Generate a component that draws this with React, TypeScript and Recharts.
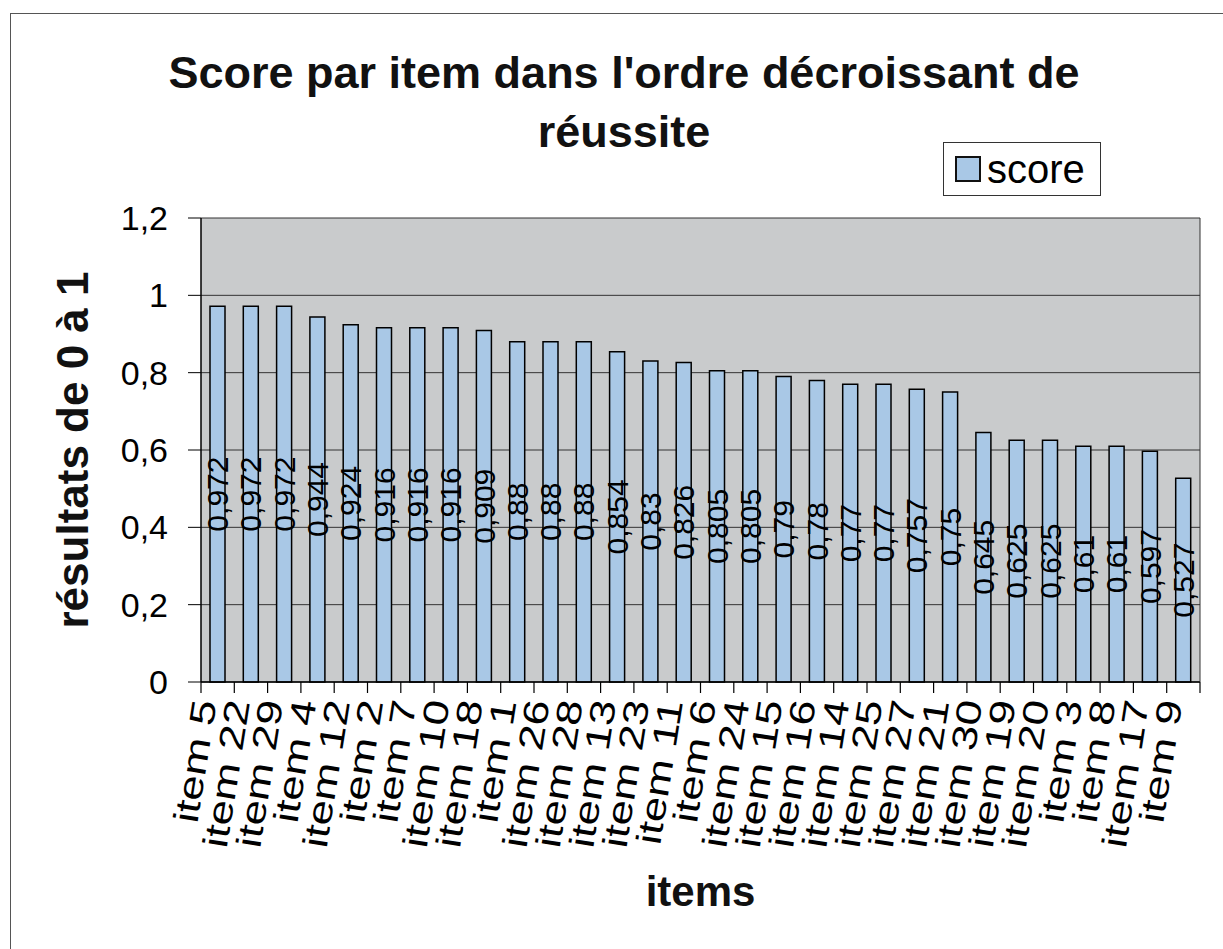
import { BarChart, Bar, XAxis, YAxis, CartesianGrid, LabelList, Label } from "recharts";

const items = [
  "item 5", "item 22", "item 29", "item 4", "item 12", "item 2", "item 7", "item 10",
  "item 18", "item 1", "item 26", "item 28", "item 13", "item 23", "item 11", "item 6",
  "item 24", "item 15", "item 16", "item 14", "item 25", "item 27", "item 21", "item 30",
  "item 19", "item 20", "item 3", "item 8", "item 17", "item 9",
];
const scores = [
  0.972, 0.972, 0.972, 0.944, 0.924, 0.916, 0.916, 0.916,
  0.909, 0.88, 0.88, 0.88, 0.854, 0.83, 0.826, 0.805,
  0.805, 0.79, 0.78, 0.77, 0.77, 0.757, 0.75, 0.645,
  0.625, 0.625, 0.61, 0.61, 0.597, 0.527,
];
const yTicks = [0, 0.2, 0.4, 0.6, 0.8, 1, 1.2];

const data = items.map((item, i) => ({ item, score: scores[i] }));

const W = 1223;
const H = 949;
const margin = { top: 218, right: 22, bottom: 0, left: 0 };
const yAxisW = 201;
const plotW = W - margin.left - margin.right - yAxisW - 1;
const band = plotW / items.length;

// french decimal comma
const fr = (v: any) => String(v).replace(".", ",");

function ItemTick(props: any) {
  const { x, y, payload, index } = props;
  const half = band / 2;
  return (
    <g>
      <line x1={x - half} y1={y} x2={x - half} y2={y + 11} stroke="#000" strokeWidth={1.2} />
      {index === items.length - 1 && (
        <line x1={x + half} y1={y} x2={x + half} y2={y + 11} stroke="#000" strokeWidth={1.2} />
      )}
      <text
        transform={`translate(${x - 1},${y + 20}) rotate(-81) scale(1.3,1)`}
        textAnchor="end"
        fontSize={35}
        fill="#000"
      >
        {payload.value}
      </text>
    </g>
  );
}

export default function App() {
  return (
    <div
      style={{
        position: "absolute",
        left: 0,
        top: 0,
        width: W,
        height: H,
        overflow: "hidden",
        background: "#fff",
        fontFamily: "'Liberation Sans', Arial, sans-serif",
      }}
    >
      <div
        style={{
          position: "absolute",
          left: 10,
          top: 13,
          width: W + 40,
          height: H + 40,
          border: "1.5px solid #555",
        }}
      />
      <div
        style={{
          position: "absolute",
          left: 24,
          top: 43,
          width: 1200,
          textAlign: "center",
          fontSize: 45,
          fontWeight: "bold",
          lineHeight: "59px",
          color: "#111",
        }}
      >
        <div>Score par item dans l'ordre décroissant de</div>
        <div>réussite</div>
      </div>
      <div
        style={{
          position: "absolute",
          left: 943,
          top: 142,
          width: 158,
          height: 54,
          border: "1.5px solid #333",
          display: "flex",
          alignItems: "center",
          boxSizing: "border-box",
          paddingLeft: 11,
          zIndex: 2,
        }}
      >
        <span
          style={{
            display: "inline-block",
            width: 22,
            height: 22,
            background: "#a9c8e6",
            border: "2px solid #111",
            marginRight: 6,
          }}
        />
        <span style={{ fontSize: 40, color: "#000", lineHeight: "40px" }}>score</span>
      </div>
      <div style={{ position: "absolute", left: 0, top: 0 }}>
        <BarChart width={W} height={H} data={data} margin={margin} barCategoryGap={0}>
          <CartesianGrid vertical={false} stroke="#333" strokeWidth={1} fill="#c9cbcc" fillOpacity={1} />
          <XAxis
            dataKey="item"
            interval={0}
            height={H - 682}
            tickLine={false}
            tickSize={0}
            tickMargin={0}
            axisLine={{ stroke: "#000", strokeWidth: 1.5 }}
            tick={<ItemTick />}
          >
            <Label
              value="items"
              position="center"
              dy={76}
              style={{ fontSize: 42, fontWeight: "bold", fill: "#111" }}
            />
          </XAxis>
          <YAxis
            width={yAxisW}
            domain={[0, 1.2]}
            ticks={yTicks}
            tickFormatter={fr}
            tickSize={13}
            tickMargin={20}
            tickLine={{ stroke: "#000" }}
            axisLine={{ stroke: "#000", strokeWidth: 1.5 }}
            tick={{ fill: "#000", fontSize: 34 }}
          >
            <Label
              value="résultats de 0 à 1"
              angle={-90}
              position="center"
              dx={-28}
              style={{ fontSize: 44, fontWeight: "bold", fill: "#111" }}
            />
          </YAxis>
          <YAxis
            yAxisId="r"
            orientation="right"
            width={1}
            domain={[0, 1.2]}
            tick={false}
            tickLine={false}
            axisLine={{ stroke: "#333" }}
          />
          <Bar
            dataKey="score"
            barSize={15}
            fill="#a9c8e6"
            stroke="#000"
            strokeWidth={1.5}
            isAnimationActive={false}
          >
            <LabelList
              dataKey="score"
              position="center"
              angle={-90}
              formatter={fr}
              fontSize={30}
              fill="#000"
            />
          </Bar>
        </BarChart>
      </div>
    </div>
  );
}
